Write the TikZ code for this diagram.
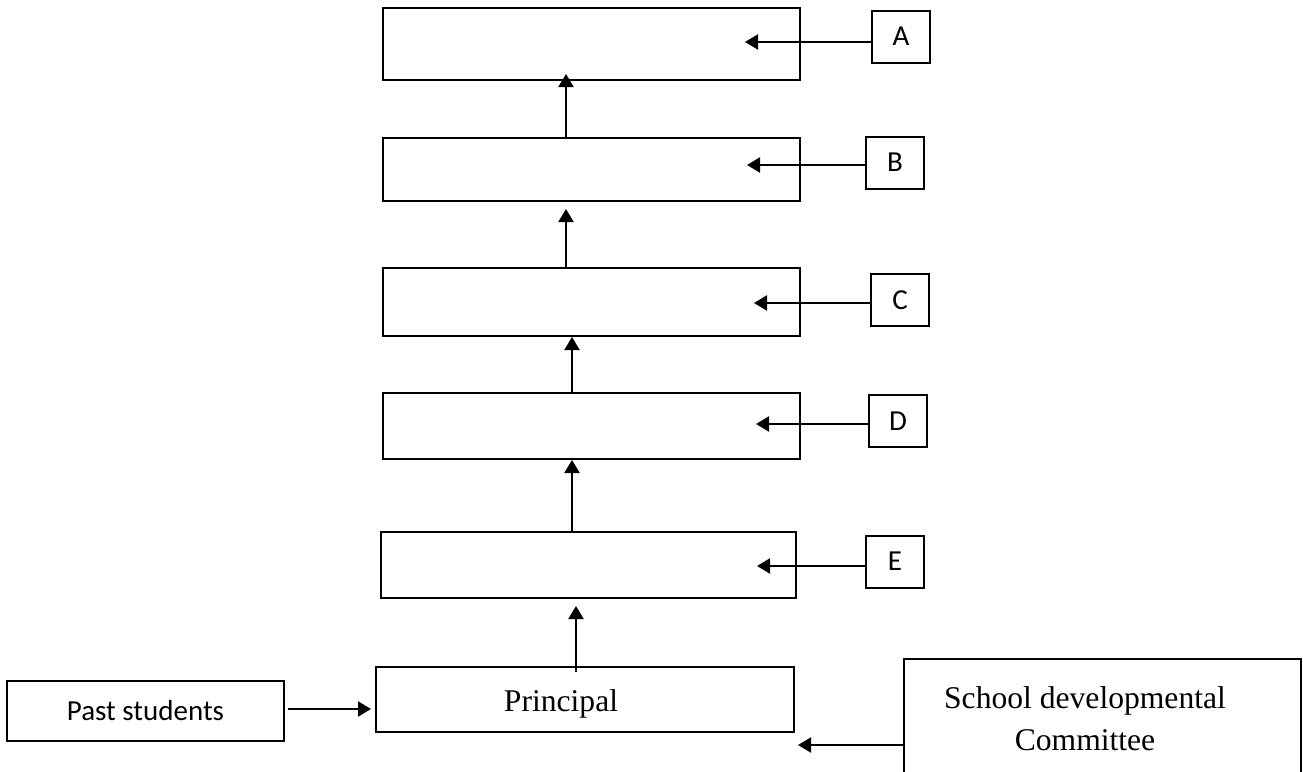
\documentclass[tikz,border=0pt]{standalone}
\usepackage{fontspec}
\setmainfont{Liberation Serif}
\newfontfamily\calibri{Carlito}
\usetikzlibrary{arrows.meta,positioning}

\begin{document}
\begin{tikzpicture}[x=1pt,y=-1pt,>={Triangle[width=15pt,length=13pt]},
		line width=2pt,outer sep=0pt,inner sep=0pt,
		level box/.style={rectangle,draw,minimum width=417pt},
		letter box/.style={rectangle,draw,minimum width=58pt,minimum height=52pt,
			font=\calibri\fontsize{29}{35}\selectfont},
		serif text/.style={font=\fontsize{31.6}{42}\selectfont,align=center}]
		
		\useasboundingbox (0,0) rectangle (1303,771);
		
		\node[level box, minimum height=72pt] (b1) at (591.5,44) {};
		\node[level box, minimum height=63pt] (b2) [below=58pt of b1] {};
		\node[level box, minimum height=68pt] (b3) [below=67pt of b2] {};
		\node[level box, minimum height=66pt] (b4) [below=57pt of b3] {};
		\node[level box, minimum height=66pt, minimum width=415pt] (b5) [below=73pt of b4, xshift=-3pt] {};
		\node[level box, minimum height=65pt, minimum width=418pt] (pr) [below=69pt of b5, xshift=-3.5pt]
			[label={[serif text,xshift=-24pt,yshift=-4pt]center:Principal}] {};
		
		\node[letter box] (A) [right=72pt of b1, yshift=7.5pt] {A};
		\node[letter box] (B) [right=66pt of b2, yshift=7pt] {B};
		\node[letter box] (C) [right=71pt of b3, yshift=2pt] {C};
		\node[letter box] (D) [right=69pt of b4, yshift=5pt] {D};
		\node[letter box] (E) [right=70pt of b5, yshift=3.5pt] {E};
		
		\node[rectangle,draw,minimum width=277pt,minimum height=60pt,
			font=\calibri\fontsize{29}{35}\selectfont] (ps) [left=92pt of pr, yshift=-11.5pt] {Past students};
		\node[rectangle,draw,minimum width=397pt,minimum height=124pt] (sdc) [right=110pt of pr, yshift=-21.5pt]
			[label={[serif text,xshift=-17.5pt,yshift=2pt]center:{School developmental\\Committee}}] {};
		
		% arrow tips inside the boxes
		\coordinate (t1) at ([xshift=-25.5pt,yshift=6pt]b1.south);
		\coordinate (t2) at ([xshift=-25.5pt,yshift=-8pt]b2.south);
		\coordinate (t3) at ([xshift=-19.5pt,yshift=-1pt]b3.south);
		\coordinate (t4) at ([xshift=-19.5pt,yshift=-1pt]b4.south);
		\coordinate (t5) at ([xshift=-12.5pt,yshift=-8pt]b5.south);
		\coordinate (a1) at ([xshift=-55pt,yshift=2pt]b1.east);
		\coordinate (a2) at ([xshift=-53pt,yshift=4.5pt]b2.east);
		\coordinate (a3) at ([xshift=-46pt,yshift=-1pt]b3.east);
		\coordinate (a4) at ([xshift=-44pt,yshift=2pt]b4.east);
		\coordinate (a5) at ([xshift=-39pt,yshift=-1pt]b5.east);
		\coordinate (s1) at ([xshift=4pt,yshift=-13pt]pr.south east);
		
		\path[->]
		(b2.north -| t1) edge (t1)
		(b3.north -| t2) edge (t2)
		(b4.north -| t3) edge (t3)
		(b5.north -| t4) edge (t4)
		([yshift=-5pt]pr.north -| t5) edge (t5)
		(A.west |- a1) edge (a1)
		(B.west |- a2) edge (a2)
		(C.west |- a3) edge (a3)
		(D.west |- a4) edge (a4)
		(E.west |- a5) edge (a5)
		(sdc.west |- s1) edge (s1);
		
		\draw[->,shorten <=4pt,shorten >=5pt] ([yshift=2pt]ps.east) -- ([yshift=2pt]ps.east -| pr.west);
	\end{tikzpicture}
\end{document}
